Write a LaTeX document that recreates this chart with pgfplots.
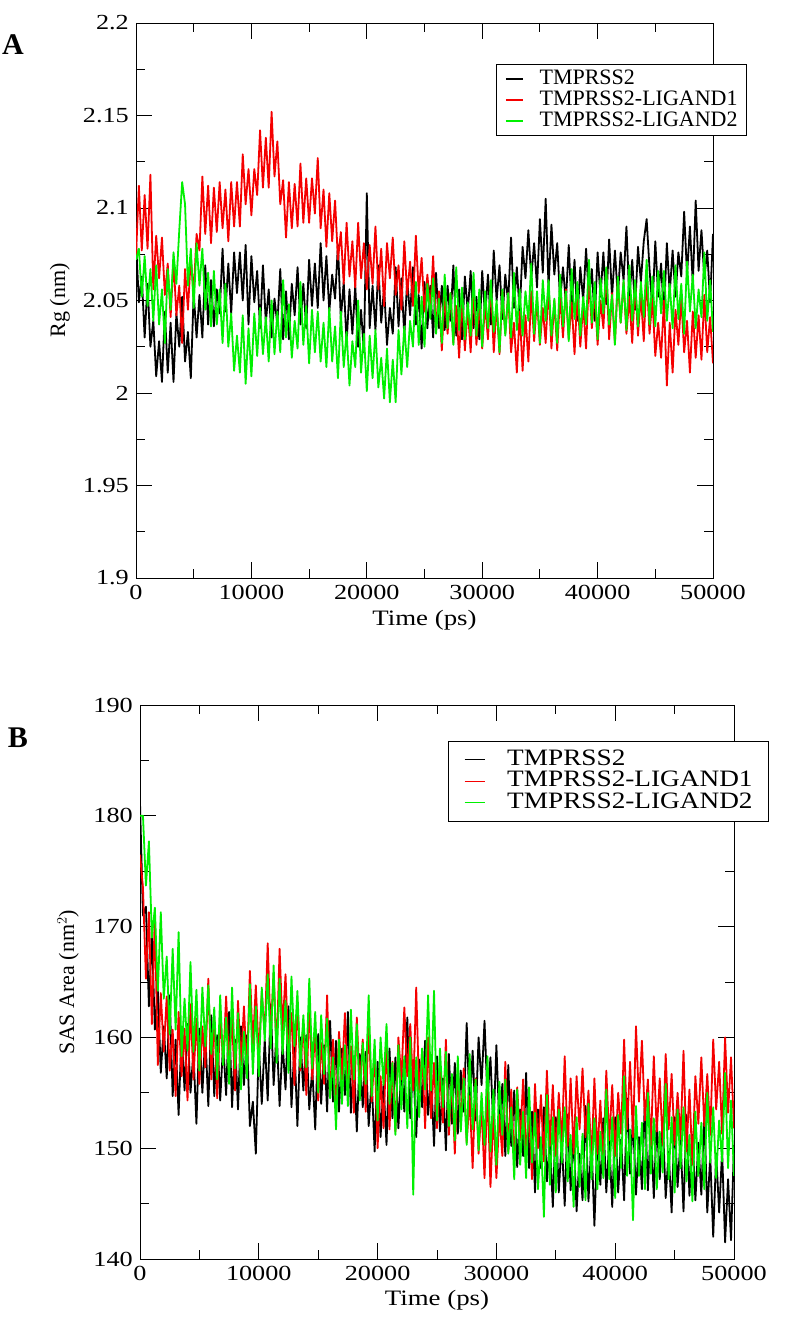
\documentclass[border=0pt]{standalone}
\usepackage{fontspec}
\setmainfont{Liberation Serif}
\newfontfamily\tickfont{Liberation Serif}[FakeStretch=1.22]
\newfontfamily\legBfont{Liberation Serif}[FakeStretch=1.16]
\usepackage{pgfplots}
\usepackage{pgfplotstable}
\pgfplotsset{compat=1.18}
\definecolor{ggreen}{RGB}{0,240,0}
\definecolor{rred}{RGB}{245,0,0}

\pgfplotstableread{
x k r g
0 2.082 2.074 2.072
250 2.049 2.112 2.078
500 2.063 2.077 2.052
750 2.030 2.107 2.074
1000 2.059 2.078 2.047
1250 2.025 2.118 2.067
1500 2.039 2.056 2.039
1750 2.009 2.085 2.069
2000 2.028 2.062 2.037
2250 2.006 2.084 2.056
2500 2.044 2.053 2.027
2750 2.011 2.070 2.067
3000 2.038 2.041 2.045
3250 2.006 2.072 2.076
3500 2.043 2.042 2.059
3750 2.025 2.058 2.088
4000 2.052 2.027 2.114
4250 2.017 2.067 2.102
4500 2.033 2.045 2.058
4750 2.008 2.073 2.078
5000 2.054 2.054 2.046
5250 2.030 2.086 2.081
5500 2.053 2.077 2.058
5750 2.030 2.117 2.078
6000 2.069 2.086 2.045
6250 2.037 2.112 2.065
6500 2.061 2.081 2.036
6750 2.036 2.111 2.066
7000 2.056 2.087 2.037
7250 2.043 2.114 2.056
7500 2.078 2.089 2.027
7750 2.044 2.110 2.059
8000 2.070 2.082 2.025
8250 2.043 2.114 2.043
8500 2.076 2.090 2.012
8750 2.054 2.114 2.031
9000 2.076 2.090 2.011
9250 2.050 2.129 2.042
9500 2.080 2.102 2.005
9750 2.037 2.121 2.035
10000 2.074 2.096 2.009
10250 2.049 2.121 2.043
10500 2.066 2.107 2.020
10750 2.035 2.142 2.046
11000 2.069 2.111 2.021
11250 2.038 2.138 2.041
11500 2.056 2.111 2.017
11750 2.030 2.152 2.050
12000 2.051 2.117 2.021
12250 2.037 2.136 2.044
12500 2.067 2.102 2.022
12750 2.029 2.115 2.061
13000 2.055 2.084 2.030
13250 2.029 2.114 2.048
13500 2.059 2.089 2.019
13750 2.042 2.113 2.039
14000 2.068 2.090 2.024
14250 2.037 2.124 2.060
14500 2.059 2.092 2.026
14750 2.035 2.116 2.047
15000 2.072 2.092 2.016
15250 2.047 2.116 2.045
15500 2.070 2.097 2.022
15750 2.046 2.127 2.044
16000 2.081 2.089 2.017
16250 2.050 2.110 2.038
16500 2.074 2.079 2.014
16750 2.044 2.108 2.046
17000 2.064 2.082 2.017
17250 2.051 2.104 2.036
17500 2.080 2.072 2.008
17750 2.040 2.087 2.044
18000 2.060 2.059 2.014
18250 2.027 2.092 2.033
18500 2.056 2.063 2.004
18750 2.032 2.082 2.028
19000 2.058 2.057 2.014
19250 2.025 2.092 2.050
19500 2.045 2.062 2.011
19750 2.022 2.081 2.032
20000 2.108 2.056 2.001
20250 2.035 2.080 2.031
20500 2.058 2.059 2.008
20750 2.034 2.090 2.034
21000 2.069 2.056 2.003
21250 2.038 2.078 2.019
21500 2.057 2.047 1.997
21750 2.026 2.081 2.024
22000 2.046 2.062 1.995
22250 2.032 2.084 2.018
22500 2.068 2.053 1.995
22750 2.036 2.069 2.034
23000 2.062 2.045 2.010
23250 2.031 2.082 2.036
23500 2.061 2.053 2.014
23750 2.042 2.071 2.039
24000 2.068 2.047 2.025
24250 2.037 2.085 2.060
24500 2.053 2.054 2.026
24750 2.024 2.073 2.052
25000 2.060 2.044 2.025
25250 2.035 2.064 2.059
25500 2.058 2.044 2.040
25750 2.030 2.074 2.062
26000 2.065 2.034 2.032
26250 2.035 2.055 2.051
26500 2.058 2.023 2.027
26750 2.034 2.053 2.064
27000 2.058 2.032 2.035
27250 2.039 2.054 2.054
27500 2.069 2.027 2.026
27750 2.031 2.047 2.068
28000 2.056 2.019 2.034
28250 2.029 2.052 2.057
28500 2.063 2.023 2.029
28750 2.044 2.046 2.049
29000 2.066 2.022 2.031
29250 2.035 2.057 2.065
29500 2.052 2.026 2.031
29750 2.029 2.049 2.056
30000 2.066 2.024 2.025
30250 2.041 2.048 2.055
30500 2.064 2.029 2.035
30750 2.037 2.060 2.061
31000 2.077 2.022 2.033
31250 2.050 2.048 2.050
31500 2.069 2.021 2.022
31750 2.040 2.055 2.056
32000 2.064 2.032 2.031
32250 2.049 2.054 2.054
32500 2.084 2.022 2.030
32750 2.046 2.038 2.065
33000 2.068 2.011 2.034
33250 2.043 2.044 2.056
33500 2.079 2.012 2.031
33750 2.062 2.042 2.055
34000 2.088 2.017 2.039
34250 2.062 2.055 2.070
34500 2.081 2.028 2.032
34750 2.057 2.051 2.055
35000 2.094 2.026 2.027
35250 2.065 2.046 2.061
35500 2.105 2.027 2.039
35750 2.057 2.058 2.061
36000 2.091 2.024 2.031
36250 2.064 2.050 2.051
36500 2.081 2.023 2.027
36750 2.050 2.053 2.064
37000 2.068 2.030 2.036
37250 2.049 2.056 2.055
37500 2.080 2.029 2.028
37750 2.046 2.049 2.067
38000 2.072 2.021 2.040
38250 2.039 2.054 2.060
38500 2.068 2.025 2.031
38750 2.050 2.048 2.052
39000 2.078 2.024 2.037
39250 2.051 2.063 2.072
39500 2.067 2.035 2.038
39750 2.039 2.055 2.060
40000 2.076 2.026 2.029
40250 2.052 2.050 2.062
40500 2.076 2.035 2.043
40750 2.048 2.067 2.068
41000 2.083 2.029 2.037
41250 2.052 2.054 2.053
41500 2.077 2.027 2.026
41750 2.052 2.061 2.063
42000 2.076 2.038 2.038
42250 2.061 2.060 2.061
42500 2.090 2.032 2.034
42750 2.051 2.052 2.069
43000 2.072 2.027 2.039
43250 2.045 2.060 2.061
43500 2.079 2.031 2.036
43750 2.060 2.053 2.060
44000 2.082 2.028 2.041
44250 2.094 2.063 2.072
44500 2.067 2.032 2.037
44750 2.045 2.051 2.063
45000 2.082 2.020 2.036
45250 2.052 2.038 2.066
45500 2.070 2.019 2.043
45750 2.042 2.050 2.066
46000 2.081 2.004 2.039
46250 2.054 2.038 2.059
46500 2.077 2.011 2.035
46750 2.052 2.045 2.069
47000 2.076 2.026 2.040
47250 2.063 2.052 2.059
47500 2.098 2.022 2.032
47750 2.064 2.039 2.071
48000 2.090 2.011 2.044
48250 2.059 2.044 2.064
48500 2.104 2.019 2.035
48750 2.066 2.042 2.056
49000 2.088 2.018 2.041
49250 2.062 2.053 2.076
49500 2.077 2.022 2.039
49750 2.049 2.041 2.061
50000 2.086 2.016 2.033
}\tabA

\pgfplotstableread{
x k r g
0 181.2 176.5 180.0
250 171.0 173.5 180.0
500 171.8 165.3 173.7
750 162.8 171.3 177.7
1000 169.5 161.2 169.0
1250 160.7 171.0 171.7
1500 164.2 157.5 164.2
1750 156.8 164.0 171.3
2000 161.0 158.7 163.5
2250 156.3 163.7 167.3
2500 163.8 157.0 160.3
2750 154.7 160.7 168.0
3000 159.8 154.7 160.7
3250 153.0 162.3 169.5
3500 160.5 156.5 158.3
3750 155.2 160.8 163.5
4000 161.2 154.3 158.8
4250 155.0 163.0 166.8
4500 158.7 156.2 158.7
4750 152.2 161.7 164.3
5000 160.8 155.8 157.0
5250 155.0 161.0 164.5
5500 160.3 157.3 159.2
5750 153.8 165.3 164.7
6000 162.0 156.2 158.5
6250 154.7 161.8 162.7
6500 160.2 154.5 156.2
6750 154.3 162.0 163.8
7000 159.5 157.7 157.5
7250 154.8 163.7 161.8
7500 162.3 157.5 155.8
7750 153.7 161.7 164.5
8000 159.8 155.2 157.2
8250 153.5 163.3 162.2
8500 161.0 157.5 155.3
8750 155.7 162.8 160.5
9000 160.2 156.8 156.3
9250 152.0 166.0 164.8
9500 154.2 159.2 156.7
9750 149.5 164.7 162.8
10000 159.3 158.3 156.5
10250 154.0 164.0 164.5
10500 159.8 160.3 159.7
10750 154.3 168.5 165.7
11000 163.0 160.2 159.0
11250 155.7 165.8 166.5
11500 160.7 158.5 157.7
11750 153.8 168.0 165.3
12000 159.5 160.7 158.5
12250 155.3 165.7 163.3
12500 162.8 158.5 156.8
12750 153.7 162.2 165.5
13000 159.3 155.7 159.2
13250 152.0 163.3 164.2
13500 160.0 157.0 157.3
13750 155.2 161.3 162.0
14000 160.2 154.8 157.3
14250 153.5 163.0 165.3
14500 157.2 156.2 157.2
14750 151.7 160.7 162.3
15000 160.3 154.3 155.0
15250 154.0 159.5 162.0
15500 159.3 155.8 156.7
15750 153.3 163.8 161.7
16000 161.5 154.7 154.5
16250 154.2 159.8 158.2
16500 159.7 153.0 151.7
16750 153.3 160.5 159.8
17000 159.0 156.2 154.0
17250 154.8 162.2 159.3
17500 162.3 155.5 153.8
17750 153.2 159.2 162.5
18000 158.3 153.2 156.2
18250 151.5 161.8 161.2
18500 158.5 155.5 154.3
18750 153.7 159.8 159.5
19000 158.7 153.3 155.8
19250 152.0 161.5 163.8
19500 156.2 154.2 154.7
19750 149.7 158.7 159.8
20000 157.8 150.0 152.5
20250 151.0 156.5 160.0
20500 155.8 151.8 155.7
20750 150.3 159.8 161.2
21000 159.0 151.7 154.0
21250 152.7 157.8 157.7
21500 158.2 151.5 151.2
21750 151.8 160.0 159.3
22000 157.5 156.2 153.5
22250 153.3 162.7 158.3
22500 161.8 156.5 151.8
22750 152.7 161.2 160.0
23000 157.8 155.2 145.8
23250 151.0 164.5 158.2
23500 158.0 155.0 152.8
23750 153.7 158.8 159.0
24000 159.7 151.8 155.3
24250 153.0 160.0 163.8
24500 156.7 152.7 155.2
24750 150.2 157.7 164.2
25000 158.3 151.8 152.5
25250 151.5 157.0 159.0
25500 156.3 152.3 153.7
25750 149.8 159.8 158.7
26000 158.5 151.2 152.0
26250 152.2 156.3 156.7
26500 157.7 149.5 150.7
26750 151.3 157.0 158.3
27000 157.0 152.2 151.5
27250 153.3 157.2 156.3
27500 161.3 150.5 150.3
27750 153.2 154.7 158.5
28000 158.8 148.2 151.7
28250 152.5 156.3 156.2
28500 160.0 149.5 149.8
28750 155.7 153.8 155.0
29000 161.5 147.3 150.3
29250 154.5 155.5 158.3
29500 158.2 146.5 149.7
29750 151.7 153.2 155.3
30000 159.3 147.3 148.5
30250 152.0 153.0 156.0
30500 155.8 149.3 151.2
30750 149.3 157.8 156.2
31000 157.5 149.7 149.5
31250 150.2 155.3 153.7
31500 155.2 148.5 147.2
31750 148.3 155.5 155.3
32000 153.5 150.7 148.5
32250 149.3 156.2 153.3
32500 156.8 149.5 147.3
32750 148.2 153.2 155.5
33000 153.3 147.2 148.7
33250 146.0 155.8 153.2
33500 153.5 150.0 146.3
33750 148.2 154.8 151.0
34000 153.7 148.8 143.8
34250 147.0 157.0 154.8
34500 150.7 150.2 146.7
34750 144.7 155.7 152.8
35000 152.8 149.3 146.0
35250 146.0 155.0 153.5
35500 150.8 150.3 148.7
35750 144.8 158.3 153.7
36000 153.0 150.2 147.0
36250 146.2 156.3 151.2
36500 151.2 149.5 144.7
36750 144.3 156.5 152.8
37000 149.5 151.7 146.5
37250 145.3 157.2 151.3
37500 153.8 151.0 145.3
37750 145.2 155.2 154.0
38000 150.8 148.7 147.2
38250 143.0 156.3 152.7
38500 151.0 149.5 146.3
38750 146.7 154.3 151.5
39000 152.7 148.3 147.3
39250 146.0 157.0 155.3
39500 150.7 150.7 147.2
39750 144.7 155.7 152.8
40000 152.8 149.3 145.5
40250 146.0 155.0 153.0
40500 150.8 151.3 148.2
40750 145.3 159.8 156.5
41000 154.5 151.7 147.5
41250 147.7 157.8 151.7
41500 152.7 151.0 143.5
41750 145.8 161.0 153.8
42000 151.0 154.2 147.5
42250 146.3 159.7 152.3
42500 154.3 152.5 146.3
42750 146.2 156.2 155.0
43000 152.3 150.2 147.7
43250 145.5 158.3 152.7
43500 152.5 151.5 146.3
43750 147.2 156.3 151.5
44000 152.7 150.3 147.8
44250 145.5 158.5 155.8
44500 149.7 151.7 147.2
44750 144.2 156.7 152.8
45000 152.8 150.3 146.0
45250 146.5 155.0 153.5
45500 150.8 150.8 148.2
45750 144.3 158.8 153.7
46000 153.0 149.7 147.0
46250 145.7 155.3 151.2
46500 151.2 148.5 145.2
46750 145.3 156.5 153.3
47000 150.5 152.2 147.5
47250 145.8 158.2 152.3
47500 153.3 152.0 146.3
47750 144.2 156.7 155.0
48000 149.3 151.2 148.7
48250 142.0 159.8 153.7
48500 149.5 153.5 147.3
48750 144.2 157.8 152.5
49000 149.7 151.3 148.8
49250 141.5 160.0 156.8
49500 147.2 153.2 148.2
49750 141.7 158.2 154.3
50000 150.3 151.8 147.5
}\tabB

\pgfplotsset{
  graceaxis/.style={
    scale only axis,
    xmin=0, xmax=50000,
    scaled x ticks=false, scaled y ticks=false,
    axis line style={line width=0.9pt},
    every tick/.style={line width=0.9pt, black},
    major tick length=16pt, minor tick length=9pt,
    tick align=inside,
    xtick={0,10000,20000,30000,40000,50000},
    xticklabels={0,10000,20000,30000,40000,50000},
    minor x tick num=1, minor y tick num=1,
    tick label style={font=\tickfont\fontsize{21.5}{24}\selectfont, inner sep=1pt},
    xticklabel style={yshift=-6pt},
    yticklabel style={xshift=-6pt},
    xlabel style={font=\tickfont\fontsize{22}{24}\selectfont},
    ylabel style={font=\fontsize{22}{24}\selectfont},
    every axis plot/.append style={line width=1.8pt, line join=round},
    legend cell align=left,
  }
}

\begin{document}
\begin{tikzpicture}
\path[use as bounding box] (0pt,0pt) rectangle (784pt,1327pt);
\node[font=\bfseries\fontsize{30}{30}\selectfont] at (13pt,1282pt) {A};
\node[font=\bfseries\fontsize{30}{30}\selectfont] at (18pt,589pt) {B};

\begin{axis}[graceaxis,
  at={(136pt,749pt)}, anchor=south west,
  width=577pt, height=555pt,
  ymin=1.9, ymax=2.2,
  ytick={1.9,1.95,2,2.05,2.1,2.15,2.2},
  yticklabels={1.9,1.95,2,2.05,2.1,2.15,2.2},
  xlabel={Time (ps)}, ylabel={Rg (nm)},
  xlabel style={at={(axis description cs:0.5,-0.0757)}, anchor=center},
  ylabel style={at={(axis description cs:-0.132,0.5)}, anchor=center},
  legend image code/.code={\draw[#1, line width=1.2pt] (0pt,0pt) -- (17pt,0pt);},
  legend style={at={(1.059,0.926)}, anchor=north east, draw=black, line width=0.9pt,
    fill=white, inner xsep=9pt, inner ysep=5pt, row sep=2pt, column sep=16pt,
    font=\fontsize{22}{22}\selectfont,
    nodes={inner sep=0pt, text height=15pt, text depth=4pt}},
]
\addplot[black] table[x=x, y=k] {\tabA};
\addlegendentry{TMPRSS2}
\addplot[rred] table[x=x, y=r] {\tabA};
\addlegendentry{TMPRSS2-LIGAND1}
\addplot[ggreen] table[x=x, y=g] {\tabA};
\addlegendentry{TMPRSS2-LIGAND2}
\end{axis}

\begin{axis}[graceaxis,
  at={(140pt,68pt)}, anchor=south west,
  width=594pt, height=554pt,
  ymin=140, ymax=190,
  ytick={140,150,160,170,180,190},
  yticklabels={140,150,160,170,180,190},
  xlabel={Time (ps)}, ylabel={SAS Area (nm$^{2}$)},
  xlabel style={at={(axis description cs:0.5,-0.074)}, anchor=center},
  ylabel style={at={(axis description cs:-0.121,0.5)}, anchor=center},
  legend image code/.code={\draw[#1, line width=1.2pt] (0pt,0pt) -- (20pt,0pt);},
  legend style={at={(1.059,0.935)}, anchor=north east, draw=black, line width=0.9pt,
    fill=white, inner xsep=16pt, inner ysep=8pt, row sep=1pt, column sep=22pt,
    font=\legBfont\fontsize{23.5}{24}\selectfont,
    nodes={inner sep=0pt, text height=16pt, text depth=4.5pt}},
]
\addplot[black] table[x=x, y=k] {\tabB};
\addlegendentry{TMPRSS2}
\addplot[rred] table[x=x, y=r] {\tabB};
\addlegendentry{TMPRSS2-LIGAND1}
\addplot[ggreen] table[x=x, y=g] {\tabB};
\addlegendentry{TMPRSS2-LIGAND2}
\end{axis}
\end{tikzpicture}
\end{document}
